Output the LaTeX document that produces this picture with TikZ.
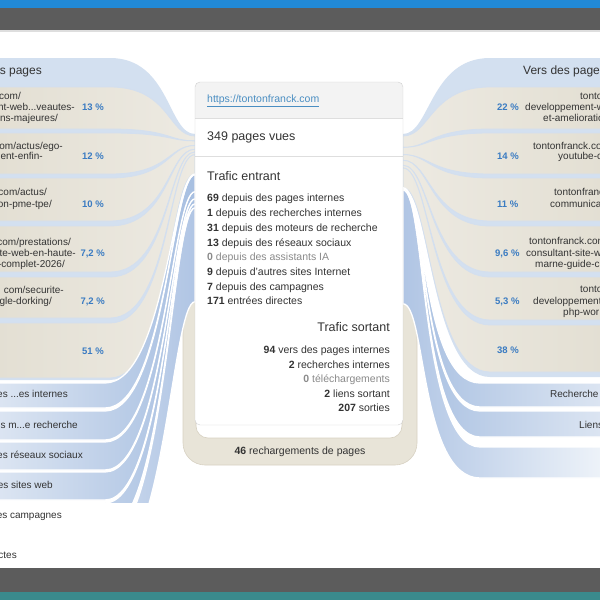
\documentclass[tikz,border=0pt]{standalone}
\usepackage{fontspec}
\setmainfont{Liberation Sans}
\definecolor{cTopBlue}{HTML}{2189D6}
\definecolor{cDark}{HTML}{5C5C5C}
\definecolor{cTeal}{HTML}{3A8A8C}
\definecolor{cHdrBlue}{HTML}{D3E0F0}
\definecolor{cSep}{HTML}{D3DFEF}
\definecolor{cBeigeL}{HTML}{E3DFD3}
\definecolor{cBeigeR}{HTML}{EDEAE2}
\definecolor{cBlueOut}{HTML}{DCE5F2}
\definecolor{cBlueIn}{HTML}{A7BFE1}
\definecolor{cPaleOut}{HTML}{EEF3F9}
\definecolor{cPaleIn}{HTML}{B0C5E4}
\definecolor{cLoop}{HTML}{E8E4D8}
\definecolor{cLoopEdge}{HTML}{D8D2C3}
\definecolor{cBoxEdge}{HTML}{D0D0D0}
\definecolor{cBoxHead}{HTML}{F3F3F3}
\definecolor{cRule}{HTML}{DEDEDE}
\definecolor{cText}{HTML}{333333}
\definecolor{cGrayText}{HTML}{8A8A8A}
\definecolor{cPct}{HTML}{3A7BC2}
\definecolor{cLink}{HTML}{4A8EC2}
% flow band: style, row top, row bottom, x where curve starts, entry top, entry bottom, x of second control point
\newcommand{\LFlow}[7]{\path[#1] (-3,#2) -- (#4,#2) .. controls ({#4+60},#2) and (#7,#5) .. (195,#5) -- (195,#6) .. controls (#7,#6) and ({#4+60},#3) .. (#4,#3) -- (-3,#3) -- cycle;}
\newcommand{\RFlow}[7]{\path[#1] (603,#2) -- (#4,#2) .. controls ({#4-60},#2) and (#7,#5) .. (403,#5) -- (403,#6) .. controls (#7,#6) and ({#4-60},#3) .. (#4,#3) -- (603,#3) -- cycle;}
\tikzset{
  grpbg/.style={fill=cHdrBlue},
  lbeige/.style={left color=cBeigeL, right color=cBeigeR, draw=cSep, line width=0.8pt},
  rbeige/.style={left color=cBeigeR, right color=cBeigeL, draw=cSep, line width=0.8pt},
  lblue/.style={left color=cBlueOut, right color=cBlueIn, draw=white, line width=1.3pt},
  rblue/.style={left color=cBlueIn, right color=cBlueOut, draw=white, line width=1.3pt},
  lpale/.style={left color=cPaleOut, right color=cPaleIn, draw=white, line width=1.3pt},
  rpale/.style={left color=cPaleIn, right color=cPaleOut, draw=white, line width=1.3pt},
  sidetxt/.style={font=\fontsize{10}{12}\selectfont, text=cText, inner sep=0pt},
  pct/.style={font=\fontsize{9.5}{11}\selectfont\bfseries, text=cPct, inner sep=0pt},
  boxtxt/.style={font=\fontsize{10.5}{12}\selectfont, text=cText, inner sep=0pt},
  boxgray/.style={font=\fontsize{10.5}{12}\selectfont, text=cGrayText, inner sep=0pt},
  boxtitle/.style={font=\fontsize{12.5}{14}\selectfont, text=cText, inner sep=0pt},
  grouphead/.style={font=\fontsize{12}{14}\selectfont, text=cText, inner sep=0pt},
}
\begin{document}
\begin{tikzpicture}[x=1pt,y=-1pt]
\useasboundingbox (0,0) rectangle (600,600);
\clip (0,0) rectangle (600,600);
% window chrome
\fill[white] (0,0) rectangle (600,600);
\fill[cTopBlue] (0,0) rectangle (600,8);
\fill[cDark] (0,8) rectangle (600,30);
\fill[cRule] (0,30) rectangle (600,31.5);
\fill[cDark] (0,568) rectangle (600,592);
\fill[cTeal] (0,592) rectangle (600,600);
% reload loop
\fill[cLoop, even odd rule] [rounded corners=22pt] (183,272) rectangle (417,465) [rounded corners=12pt] (196,272) rectangle (402,438);
\draw[cLoopEdge, line width=0.6pt, rounded corners=22pt] (183,272) -- (183,465) -- (417,465) -- (417,272);
\draw[cLoopEdge, line width=0.6pt, rounded corners=12pt] (196,272) -- (196,438) -- (402,438) -- (402,272);
% flows
\begin{scope}
\clip (0,32) rectangle (600,502);
% left: internal pages group
\LFlow{grpbg}{58}{380}{110}{134}{174}{168}
\LFlow{lbeige}{87}{129}{110}{136}{140.9}{168}
\LFlow{lbeige}{133}{174}{110}{140.9}{145.5}{168}
\LFlow{lbeige}{178}{221}{110}{145.5}{149.3}{168}
\LFlow{lbeige}{226}{272}{110}{149.3}{152}{168}
\LFlow{lbeige}{277}{318}{110}{152}{154.7}{168}
\LFlow{lbeige}{323}{378}{110}{154.7}{174}{168}
% left: other sources
\LFlow{lpale}{541}{570}{105}{207.7}{301.7}{172}
\LFlow{lblue}{503}{531}{105}{203.8}{207.7}{172}
\LFlow{lblue}{472}{500}{105}{198.8}{203.8}{172}
\LFlow{lblue}{442}{470}{105}{191.6}{198.8}{172}
\LFlow{lblue}{411}{440}{105}{174.6}{191.6}{172}
\LFlow{lblue}{383}{408}{105}{174}{174.6}{172}
% right: internal pages group
\RFlow{grpbg}{58}{377}{490}{134}{187.7}{430}
\RFlow{rbeige}{87}{129}{490}{136}{147.4}{430}
\RFlow{rbeige}{133}{174}{490}{147.4}{154.6}{430}
\RFlow{rbeige}{178}{221}{490}{154.6}{160.3}{430}
\RFlow{rbeige}{226}{272}{490}{160.3}{165.3}{430}
\RFlow{rbeige}{277}{320}{490}{165.3}{168}{430}
\RFlow{rbeige}{325}{372}{490}{168}{187.7}{430}
% right: other destinations
\RFlow{rpale}{447}{478}{480}{189.9}{303.8}{426}
\RFlow{rblue}{411}{437}{480}{188.8}{189.9}{426}
\RFlow{rblue}{383}{407}{480}{187.7}{188.8}{426}
\end{scope}
% central box
\begin{scope}
\clip[rounded corners=5pt] (195,82) rectangle (403,425);
\fill[white] (195,82) rectangle (403,425);
\fill[cBoxHead] (195,82) rectangle (403,118);
\end{scope}
\draw[cRule] (195,118) -- (403,118);
\draw[cRule] (195,156) -- (403,156);
\draw[cBoxEdge, rounded corners=5pt] (195,82) rectangle (403,425);
% box texts
\node[boxtxt, text=cLink, anchor=mid west] (link) at (207,100) {\underline{https://tontonfranck.com}};
\node[boxtitle, anchor=mid west] (views) at (207,138) {349 pages vues};
\node[boxtitle, anchor=mid west] (intitle) at (207,178) {Trafic entrant};
\node[boxtxt, anchor=mid west] (in1) at (207,199) {\textbf{69} depuis des pages internes};
\node[boxtxt, anchor=mid west] (in2) at (207,214) {\textbf{1} depuis des recherches internes};
\node[boxtxt, anchor=mid west] (in3) at (207,229) {\textbf{31} depuis des moteurs de recherche};
\node[boxtxt, anchor=mid west] (in4) at (207,244) {\textbf{13} depuis des réseaux sociaux};
\node[boxgray, anchor=mid west] (in5) at (207,258) {\textbf{0} depuis des assistants IA};
\node[boxtxt, anchor=mid west] (in6) at (207,273) {\textbf{9} depuis d'autres sites Internet};
\node[boxtxt, anchor=mid west] (in7) at (207,288) {\textbf{7} depuis des campagnes};
\node[boxtxt, anchor=mid west] (in8) at (207,302) {\textbf{171} entrées directes};
\node[boxtitle, anchor=mid east] (outtitle) at (390,329) {Trafic sortant};
\node[boxtxt, anchor=mid east] (out1) at (390,351) {\textbf{94} vers des pages internes};
\node[boxtxt, anchor=mid east] (out2) at (390,366) {\textbf{2} recherches internes};
\node[boxgray, anchor=mid east] (out3) at (390,380) {\textbf{0} téléchargements};
\node[boxtxt, anchor=mid east] (out4) at (390,395) {\textbf{2} liens sortant};
\node[boxtxt, anchor=mid east] (out5) at (390,409) {\textbf{207} sorties};
\node[boxtxt, anchor=mid] (reload) at (300,452) {\textbf{46} rechargements de pages};
% left labels
\node[grouphead, anchor=mid east] (lhead) at (42,72) {s pages};
\node[sidetxt, anchor=mid east] (l1a) at (21,97) {com/};
\node[sidetxt, anchor=mid east] (l1b) at (75,108) {nt-web...veautes-};
\node[sidetxt, anchor=mid east] (l1c) at (58,119) {ons-majeures/};
\node[sidetxt, anchor=mid east] (l2a) at (63,147) {com/actus/ego-};
\node[sidetxt, anchor=mid east] (l2b) at (43,157) {ent-enfin-};
\node[sidetxt, anchor=mid east] (l3a) at (47,193) {com/actus/};
\node[sidetxt, anchor=mid east] (l3b) at (52,205) {on-pme-tpe/};
\node[sidetxt, anchor=mid east] (l4a) at (71,243) {com/prestations/};
\node[sidetxt, anchor=mid east] (l4b) at (76,254) {te-web-en-haute-};
\node[sidetxt, anchor=mid east] (l4c) at (65,265) {-complet-2026/};
\node[sidetxt, anchor=mid east] (l5a) at (64,291) {com/securite-};
\node[sidetxt, anchor=mid east] (l5b) at (52,302) {gle-dorking/};
\node[pct, anchor=mid east] (lp1) at (104,108) {13 \%};
\node[pct, anchor=mid east] (lp2) at (104,157) {12 \%};
\node[pct, anchor=mid east] (lp3) at (104,205) {10 \%};
\node[pct, anchor=mid east] (lp4) at (105,254) {7,2 \%};
\node[pct, anchor=mid east] (lp5) at (105,302) {7,2 \%};
\node[pct, anchor=mid east] (lp6) at (104,352) {51 \%};
\node[sidetxt, anchor=mid east] (ls1) at (68,395) {es ...es internes};
\node[sidetxt, anchor=mid east] (ls2) at (78,426) {s m...e recherche};
\node[sidetxt, anchor=mid east] (ls3) at (83,456) {es réseaux sociaux};
\node[sidetxt, anchor=mid east] (ls4) at (53,486) {es sites web};
\node[sidetxt, anchor=mid east] (ls5) at (62,516) {es campagnes};
\node[sidetxt, anchor=mid east] (ls6) at (17,556) {ctes};
% right labels
\node[grouphead, anchor=mid west] (rhead) at (523,72) {Vers des pages};
\node[sidetxt, anchor=mid west] (r1a) at (580,97) {tonto};
\node[sidetxt, anchor=mid west] (r1b) at (525,108) {developpement-w};
\node[sidetxt, anchor=mid west] (r1c) at (543,119) {et-amelioratio};
\node[sidetxt, anchor=mid west] (r2a) at (533,147) {tontonfranck.co};
\node[sidetxt, anchor=mid west] (r2b) at (558,157) {youtube-c};
\node[sidetxt, anchor=mid west] (r3a) at (554,193) {tontonfranc};
\node[sidetxt, anchor=mid west] (r3b) at (550,205) {communicat};
\node[sidetxt, anchor=mid west] (r4a) at (529,242) {tontonfranck.com};
\node[sidetxt, anchor=mid west] (r4b) at (526,254) {consultant-site-w};
\node[sidetxt, anchor=mid west] (r4c) at (535,265) {marne-guide-c};
\node[sidetxt, anchor=mid west] (r5a) at (580,290) {tonto};
\node[sidetxt, anchor=mid west] (r5b) at (533,302) {developpement-};
\node[sidetxt, anchor=mid west] (r5c) at (563,313) {php-wor};
\node[pct, anchor=mid west] (rp1) at (497,108) {22 \%};
\node[pct, anchor=mid west] (rp2) at (497,157) {14 \%};
\node[pct, anchor=mid west] (rp3) at (497,205) {11 \%};
\node[pct, anchor=mid west] (rp4) at (495,254) {9,6 \%};
\node[pct, anchor=mid west] (rp5) at (495,302) {5,3 \%};
\node[pct, anchor=mid west] (rp6) at (497,351) {38 \%};
\node[sidetxt, anchor=mid west] (rs1) at (550,395) {Recherche};
\node[sidetxt, anchor=mid west] (rs2) at (579,426) {Liens};
\end{tikzpicture}
\end{document}
